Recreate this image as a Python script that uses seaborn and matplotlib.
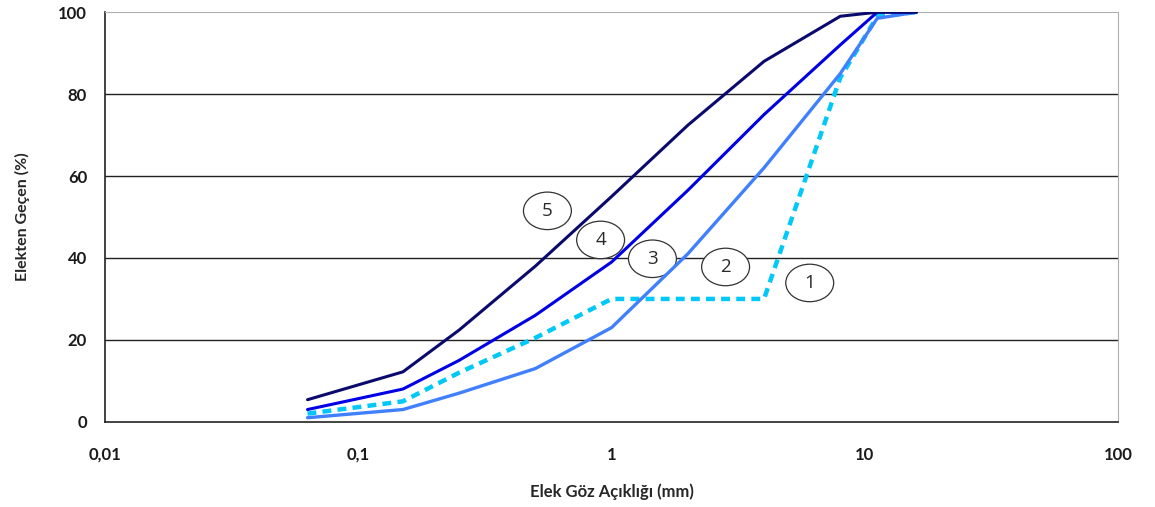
import numpy as np
import pandas as pd
import matplotlib
matplotlib.use("Agg")
import matplotlib.pyplot as plt
from matplotlib.patches import Ellipse
from matplotlib.offsetbox import DrawingArea, AnnotationBbox
import seaborn as sns

# sieve sizes (mm)
sieve = [0.063, 0.15, 0.25, 0.5, 1, 2, 4, 8, 11.2, 16]

# percent passing for each curve
curve_5 = [5.4, 12.2, 22.4, 38, 55, 72.4, 88, 99, 100, 100]
curve_4 = [3, 8, 15, 26, 39, 56.5, 75, 92, 100, 100]
curve_2 = [1, 3, 7, 13, 23, 41, 62, 85, 98.5, 100]
curve_1 = [2, 5, 12, 20.5, 30, 30, 30, 84, 99, 100]

# curve label bubbles
bubble_text = ["5", "4", "3", "2", "1"]
bubble_x = [0.558, 0.905, 1.45, 2.82, 6.06]
bubble_y = [51.5, 44.4, 39.8, 37.8, 33.9]

x_ticks = [0.01, 0.1, 1, 10, 100]
x_tick_labels = ["0,01", "0,1", "1", "10", "100"]
y_ticks = [0, 20, 40, 60, 80, 100]

sns.set_style("white")
plt.rcParams['font.family'] = ['Lato', 'DejaVu Sans']

fig = plt.figure(figsize=(11.55, 5.07), dpi=100)
ax = fig.add_axes([0.091, 0.168, 0.877, 0.808])

df = pd.DataFrame({'sieve': sieve, 'c5': curve_5, 'c4': curve_4,
                   'c2': curve_2, 'c1': curve_1})

sns.lineplot(x='sieve', y='c1', data=df, ax=ax, color='#00C8F8',
             linewidth=3.2, linestyle=(0, (2.0, 1.4)), zorder=3)
sns.lineplot(x='sieve', y='c2', data=df, ax=ax, color='#4080FF',
             linewidth=2.4, zorder=3)
sns.lineplot(x='sieve', y='c4', data=df, ax=ax, color='#0000E6',
             linewidth=2.2, zorder=3)
sns.lineplot(x='sieve', y='c5', data=df, ax=ax, color='#0A0A6E',
             linewidth=2.2, zorder=3)

ax.set_xscale('log')
ax.set_xlim(0.01, 100)
ax.set_ylim(0, 100)
ax.set_xticks(x_ticks)
ax.set_xticklabels(x_tick_labels)
ax.minorticks_off()
ax.set_yticks(y_ticks)

# horizontal grid lines
for yv in y_ticks[1:-1]:
    ax.axhline(yv, color='#222222', linewidth=1.0, zorder=0)

ax.spines['left'].set_color('#222222')
ax.spines['bottom'].set_color('#222222')
ax.spines['left'].set_linewidth(1.2)
ax.spines['bottom'].set_linewidth(1.2)
ax.spines['top'].set_color('#b0b0b0')
ax.spines['right'].set_color('#b0b0b0')

ax.tick_params(axis='both', direction='out', length=6, width=1.2,
               color='#222222', labelsize=12, labelcolor='#1a1a1a')
ax.tick_params(axis='x', pad=12)
ax.tick_params(axis='y', pad=7)
for lab in ax.get_xticklabels() + ax.get_yticklabels():
    lab.set_fontweight('bold')

ax.set_xlabel('Elek Göz Açıklığı (mm)', fontsize=12, fontweight='bold')
ax.xaxis.set_label_coords(0.5, -0.15)
ax.set_ylabel('Elekten Geçen (%)', fontsize=11.5, fontweight='bold',
              labelpad=20)

# ellipse bubbles (white fill hides grid, lines drawn on top)
for t, bx, by in zip(bubble_text, bubble_x, bubble_y):
    da = DrawingArea(35, 27.5, 0, 0)
    da.add_artist(Ellipse((17.5, 13.75), 34.5, 27, fc='white',
                          ec='#333333', lw=0.9))
    ab = AnnotationBbox(da, (bx, by), frameon=False, pad=0,
                        box_alignment=(0.5, 0.5))
    ab.set_zorder(1)
    ax.add_artist(ab)
    ax.text(bx, by, t, fontsize=13.5, ha='center', va='center',
            color='#2a2a2a', zorder=4, family=['Open Sans', 'DejaVu Sans'])

fig.savefig('out.png', dpi=100)
